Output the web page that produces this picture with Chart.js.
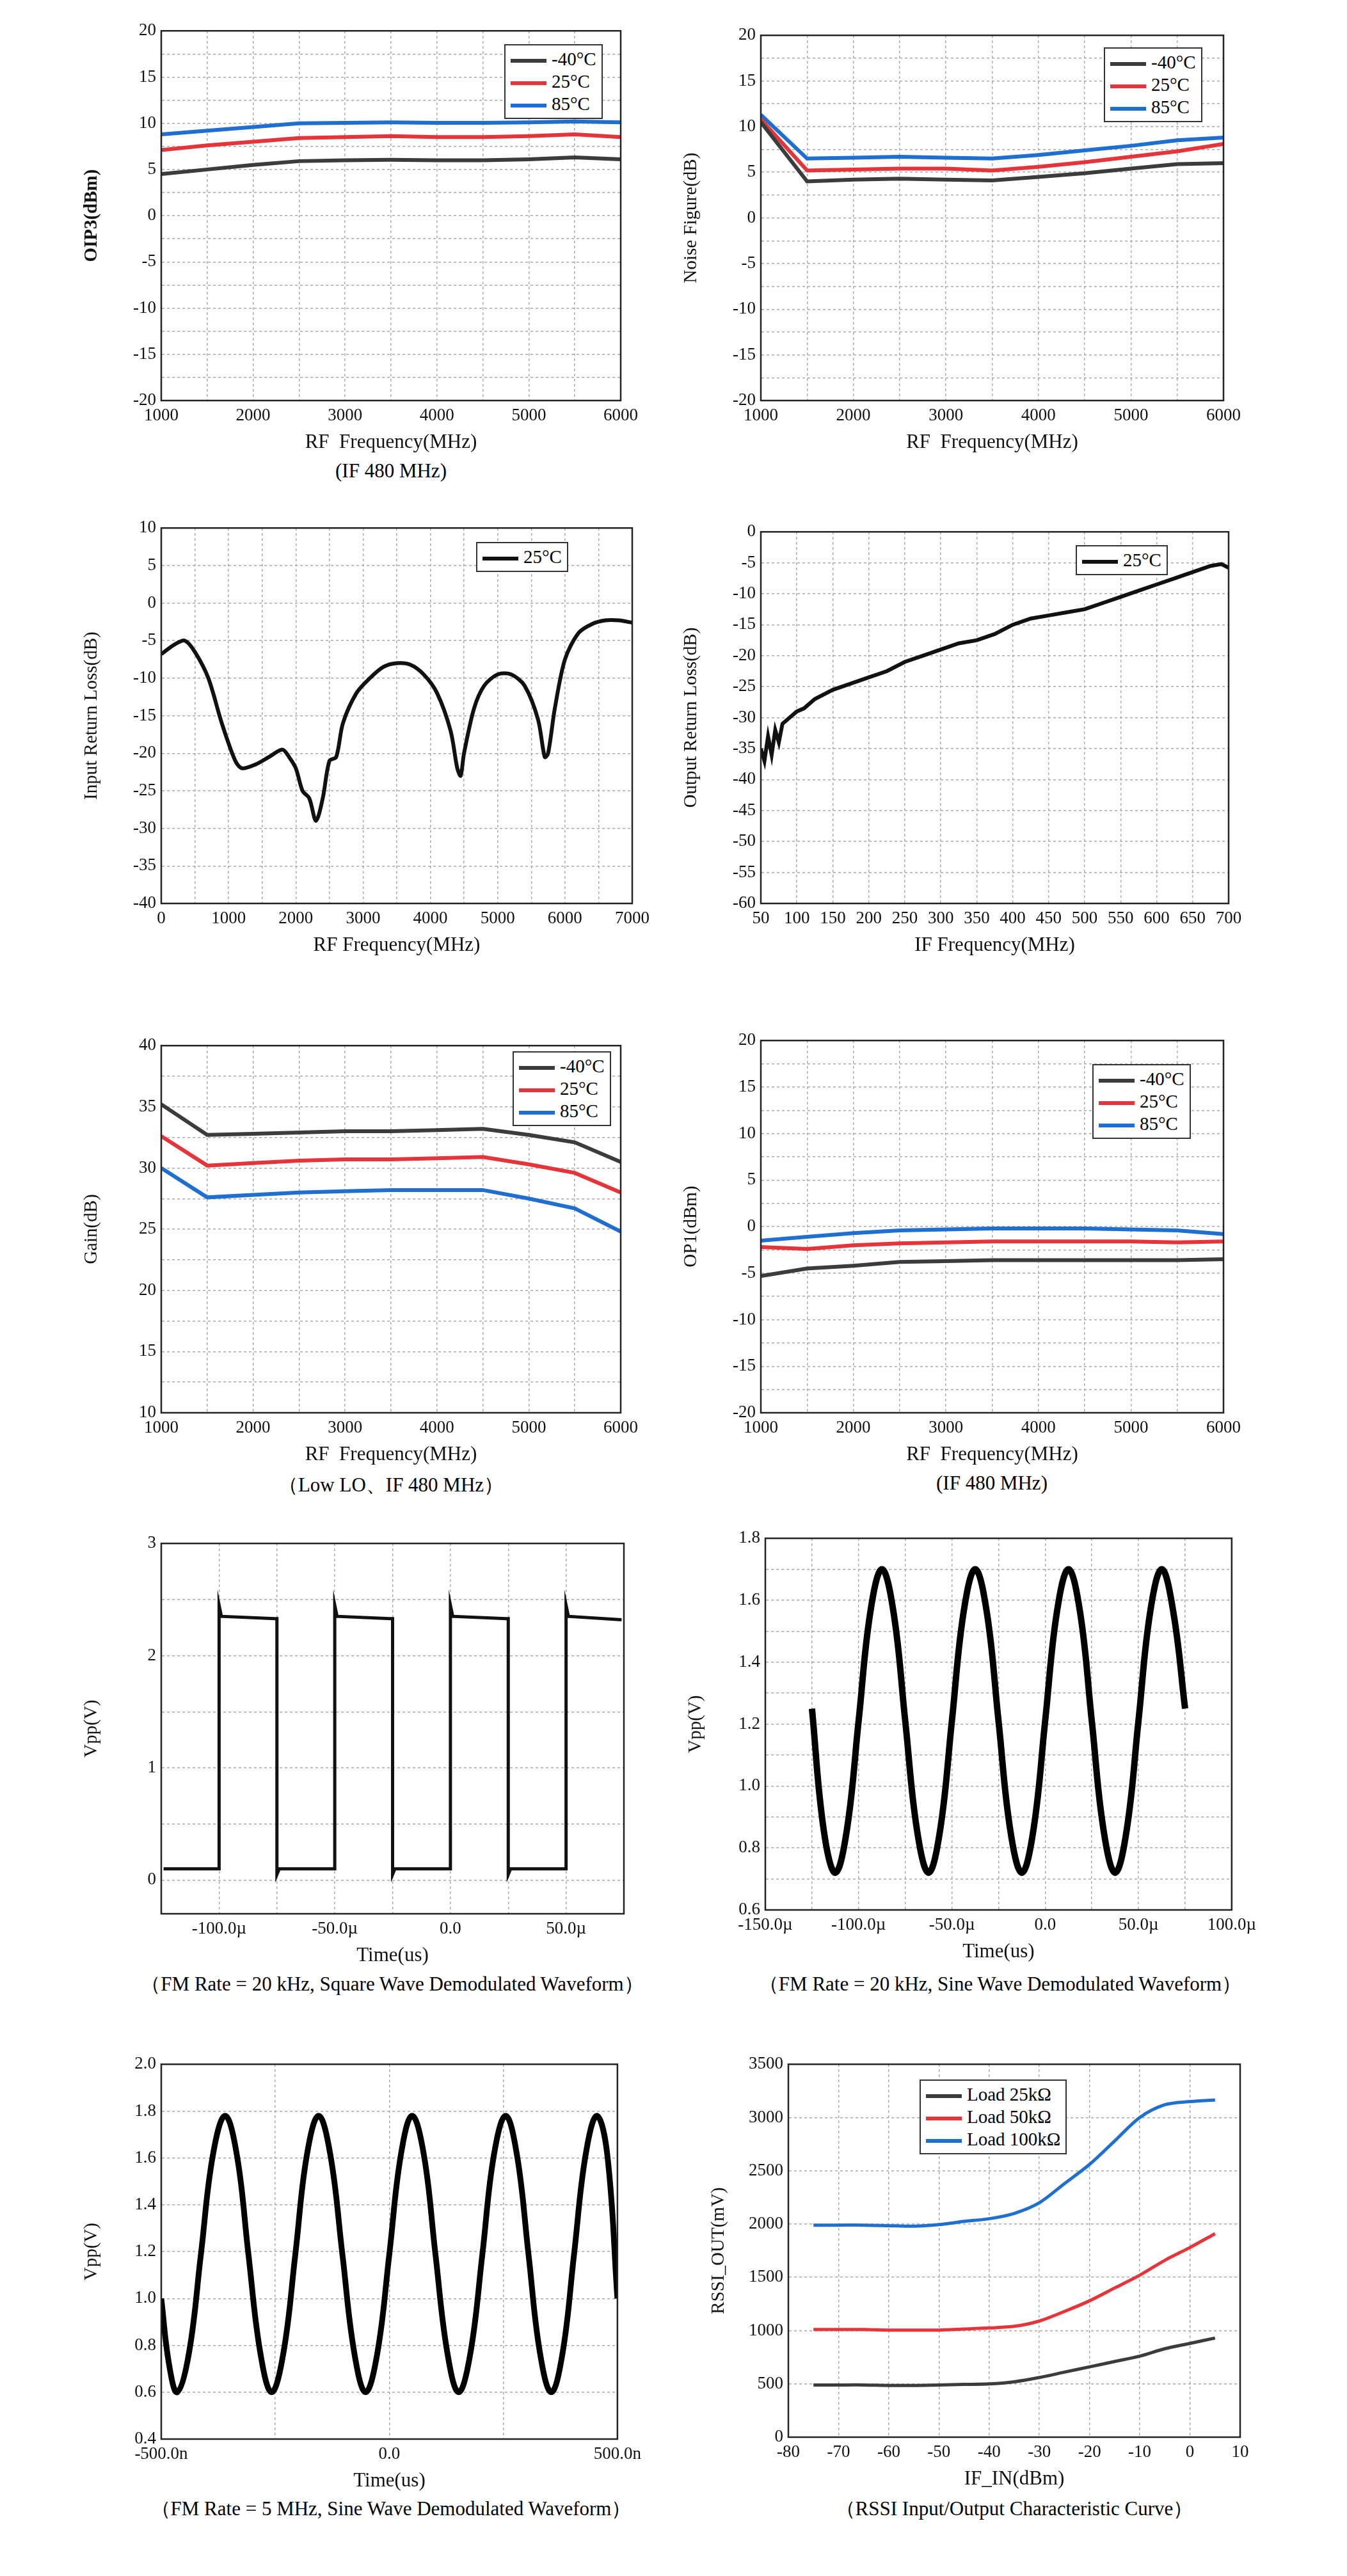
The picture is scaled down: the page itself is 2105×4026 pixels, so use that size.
<!DOCTYPE html><html>
<head>
<meta charset="UTF-8" />
<title>Charts</title>
<script src="https://cdn.jsdelivr.net/npm/chart.js"></script>
<style>
  body { margin: 0; background: #fff; width: 2105px; height: 4026px; position: relative; font-family: 'Liberation Serif', serif; }
  .box { position: absolute; }
  .legend { position: absolute; border: 2px solid #333; background: #fff; font-size: 29px; padding: 4px 8px; line-height: 35px; }
  .legend span { display: inline-block; width: 56px; height: 6px; vertical-align: middle; margin-right: 8px; }
  .cap { position: absolute; font-size: 31px; text-align: center; width: 1000px; }
</style>
</head>
<body>
<script>
// frequency axes (MHz)
const rfFreq = [1000, 1500, 2000, 2500, 3000, 3500, 4000, 4500, 5000, 5500, 6000];
const tempLabels = ['-40°C', '25°C', '85°C'];
const tempColors = ['#3c3c3c', '#e5353a', '#1e6fd0'];

const oip3 = [
  [4.5, 5.0, 5.5, 5.9, 6.0, 6.05, 6.0, 6.0, 6.1, 6.3, 6.1],
  [7.1, 7.6, 8.0, 8.4, 8.5, 8.6, 8.5, 8.5, 8.6, 8.8, 8.5],
  [8.8, 9.2, 9.6, 10.0, 10.05, 10.1, 10.05, 10.05, 10.1, 10.2, 10.1]
];
const noiseFig = [
  [10.5, 4.0, 4.2, 4.3, 4.2, 4.1, 4.5, 4.9, 5.4, 5.9, 6.0],
  [10.8, 5.2, 5.3, 5.4, 5.4, 5.2, 5.6, 6.1, 6.7, 7.3, 8.1],
  [11.3, 6.5, 6.6, 6.7, 6.6, 6.5, 6.9, 7.4, 7.9, 8.5, 8.8]
];
const gain = [
  [35.2, 32.7, 32.8, 32.9, 33.0, 33.0, 33.1, 33.2, 32.7, 32.1, 30.5],
  [32.6, 30.2, 30.4, 30.6, 30.7, 30.7, 30.8, 30.9, 30.3, 29.6, 28.0],
  [30.0, 27.6, 27.8, 28.0, 28.1, 28.2, 28.2, 28.2, 27.5, 26.7, 24.8]
];
const op1 = [
  [-5.3, -4.5, -4.2, -3.8, -3.7, -3.6, -3.6, -3.6, -3.6, -3.6, -3.5],
  [-2.2, -2.4, -2.0, -1.8, -1.7, -1.6, -1.6, -1.6, -1.6, -1.7, -1.6],
  [-1.5, -1.1, -0.7, -0.4, -0.3, -0.2, -0.2, -0.2, -0.3, -0.4, -0.8]
];

const irlFreq = [0, 200, 350, 500, 700, 900, 1100, 1200, 1400, 1600, 1800, 1900, 2000, 2100, 2200, 2300, 2400, 2500, 2600, 2700, 2900, 3100, 3300, 3500, 3700, 3900, 4100, 4300, 4400, 4450, 4500, 4650, 4800, 5000, 5200, 5400, 5600, 5700, 5750, 5850, 6000, 6200, 6400, 6600, 6800, 7000];
const irl = [-6.8, -5.5, -5.0, -6.5, -10, -16, -21, -22, -21.5, -20.5, -19.5, -20.5, -22, -25, -26, -29, -26, -21, -20.5, -16, -12, -10, -8.5, -8.0, -8.2, -9.5, -12, -17, -22, -23, -20, -14, -11, -9.5, -9.5, -11, -15.5, -20.5, -20, -14, -7.5, -4, -2.8, -2.3, -2.3, -2.6];

const orlFreq = [50, 55, 60, 65, 70, 75, 80, 90, 100, 110, 125, 150, 175, 200, 225, 250, 275, 300, 325, 350, 375, 400, 425, 450, 475, 500, 525, 550, 575, 600, 625, 650, 675, 690, 700];
const orl = [-35, -37, -33, -36, -32, -34, -31, -30, -29, -28.5, -27, -25.5, -24.5, -23.5, -22.5, -21, -20, -19, -18, -17.5, -16.5, -15, -14, -13.5, -13, -12.5, -11.5, -10.5, -9.5, -8.5, -7.5, -6.5, -5.5, -5.2, -5.8];

// square wave (us, V)
const sqTime = [-124, -100, -100, -99, -76, -75, -75, -74, -50, -50, -49, -26, -25, -25, -24, 0, 0, 1, 24, 25, 25, 26, 50, 50, 51, 74];
const sqV = [0.1, 0.1, 2.45, 2.35, 2.33, 2.33, 0.05, 0.1, 0.1, 2.45, 2.35, 2.33, 2.33, 0.05, 0.1, 0.1, 2.45, 2.35, 2.33, 2.33, 0.05, 0.1, 0.1, 2.45, 2.35, 2.32];

// 20 kHz sine (us, V)
const sinTime = [-125, -118.75, -112.5, -106.25, -100, -93.75, -87.5, -81.25, -75, -68.75, -62.5, -56.25, -50, -43.75, -37.5, -31.25, -25, -18.75, -12.5, -6.25, 0, 6.25, 12.5, 18.75, 25, 31.25, 37.5, 43.75, 50, 56.25, 62.5, 68.75, 75];
const sinV = [1.25, 0.86, 0.72, 0.86, 1.21, 1.56, 1.70, 1.56, 1.21, 0.86, 0.72, 0.86, 1.21, 1.56, 1.70, 1.56, 1.21, 0.86, 0.72, 0.86, 1.21, 1.56, 1.70, 1.56, 1.21, 0.86, 0.72, 0.86, 1.21, 1.56, 1.70, 1.56, 1.25];

// 5 MHz sine (ns, V)
const fastTime = [-500, -483, -465, -439, -413, -387, -360, -334, -309, -283, -258, -232, -206, -181, -155, -129, -103, -77, -52, -26, 0, 25, 50, 76, 101, 127, 152, 178, 204, 229, 255, 280, 305, 330, 355, 380, 405, 430, 455, 478, 500];
const fastV = [1.0, 0.72, 0.60, 0.77, 1.19, 1.61, 1.78, 1.61, 1.19, 0.77, 0.60, 0.77, 1.19, 1.61, 1.78, 1.61, 1.19, 0.77, 0.60, 0.77, 1.19, 1.61, 1.78, 1.61, 1.19, 0.77, 0.60, 0.77, 1.19, 1.61, 1.78, 1.61, 1.19, 0.77, 0.60, 0.77, 1.19, 1.61, 1.78, 1.61, 1.0];

// RSSI
const ifIn = [-75, -70, -65, -60, -55, -50, -45, -40, -35, -30, -25, -20, -15, -10, -5, 0, 5];
const rssiLabels = ['Load 25kΩ', 'Load 50kΩ', 'Load 100kΩ'];
const rssi = [
  [490, 490, 490, 485, 485, 490, 495, 500, 520, 560, 610, 660, 710, 760, 830, 880, 930],
  [1010, 1010, 1010, 1005, 1005, 1005, 1015, 1025, 1040, 1090, 1180, 1280, 1400, 1520, 1660, 1780, 1910],
  [1990, 1990, 1990, 1985, 1980, 1995, 2025, 2050, 2100, 2200, 2380, 2560, 2780, 3000, 3120, 3150, 3165]
];

const FONT = "'Liberation Serif', serif";
const YW = 130, XH = 88, PT = 20, PR = 40;

const frame = {
  id: 'frame',
  afterDraw(chart) {
    const a = chart.chartArea, c = chart.ctx;
    c.save(); c.strokeStyle = '#222'; c.lineWidth = 2.5;
    c.strokeRect(a.left, a.top, a.right - a.left, a.bottom - a.top);
    c.restore();
  }
};

function xy(xs, ys) { return xs.map((x, i) => ({ x, y: ys[i] })); }

function make(rect, datasets, o) {
  const [L, T, R, B] = rect;
  const div = document.createElement('div');
  div.className = 'box';
  div.style.left = (L - YW) + 'px';
  div.style.top = (T - PT) + 'px';
  div.style.width = (R - L + YW + PR) + 'px';
  div.style.height = (B - T + PT + XH) + 'px';
  const cv = document.createElement('canvas');
  div.appendChild(cv);
  document.body.appendChild(div);
  const grid = { color: '#aaa', lineWidth: 1.5, drawTicks: false };
  new Chart(cv, {
    type: 'line',
    data: { datasets },
    options: {
      animation: false, responsive: true, maintainAspectRatio: false,
      layout: { padding: { top: PT, right: PR } },
      plugins: { legend: { display: false }, tooltip: { enabled: false } },
      elements: { point: { radius: 0 } },
      scales: {
        x: {
          type: 'linear', min: o.xmin, max: o.xmax,
          afterFit(s) { s.height = XH; },
          afterBuildTicks(s) { s.ticks = o.xgrid.map(v => ({ value: v })); },
          ticks: { font: { family: FONT, size: 27 }, color: '#111', padding: 8, maxRotation: 0, autoSkip: false,
            callback: o.xfmt },
          grid, border: { dash: [4, 4], color: '#222' },
          title: { display: true, text: o.xtitle, font: { family: FONT, size: 31 }, color: '#111', padding: { top: 4 } }
        },
        y: {
          min: o.ymin, max: o.ymax,
          afterFit(s) { s.width = YW; },
          afterBuildTicks(s) { s.ticks = o.ygrid.map(v => ({ value: v })); },
          ticks: { font: { family: FONT, size: 27 }, color: '#111', padding: 8, autoSkip: false, callback: o.yfmt },
          grid, border: { dash: [4, 4], color: '#222' },
          title: { display: true, text: o.ytitle, font: { family: FONT, size: 29, weight: o.ybold ? 'bold' : 'normal' }, color: '#111', padding: { bottom: 2 } }
        }
      }
    },
    plugins: [frame]
  });
}

function range(a, b, s) { const r = []; for (let v = a; v <= b + 1e-9; v += s) r.push(+v.toFixed(4)); return r; }
function every(step) { return v => (Math.abs(v / step - Math.round(v / step)) < 1e-6 ? v : ''); }

function legend(x, y, labels, colors) {
  const d = document.createElement('div');
  d.className = 'legend';
  d.style.left = x + 'px'; d.style.top = y + 'px';
  d.innerHTML = labels.map((l, i) => '<div><span style="background:' + colors[i] + '"></span>' + l + '</div>').join('');
  document.body.appendChild(d);
}
function caption(cx, y, text) {
  const d = document.createElement('div');
  d.className = 'cap';
  d.style.left = (cx - 500) + 'px'; d.style.top = y + 'px';
  d.textContent = text;
  document.body.appendChild(d);
}
function tempSets(series, w) {
  return series.map((s, i) => ({ label: tempLabels[i], data: xy(rfFreq, s), borderColor: tempColors[i], borderWidth: w || 6 }));
}

const rfOpts = { xmin: 1000, xmax: 6000, xgrid: range(1000, 6000, 500), xfmt: every(1000), xtitle: 'RF  Frequency(MHz)' };

// 1 OIP3
make([252, 44, 970, 626], tempSets(oip3), Object.assign({}, rfOpts, { ymin: -20, ymax: 20, ygrid: range(-20, 20, 2.5), yfmt: every(5), ytitle: 'OIP3(dBm)', ybold: true }));
legend(788, 69, tempLabels, tempColors);
caption(611, 718, '(IF 480 MHz)');

// 2 Noise figure
make([1189, 51, 1912, 626], tempSets(noiseFig), Object.assign({}, rfOpts, { ymin: -20, ymax: 20, ygrid: range(-20, 20, 2.5), yfmt: every(5), ytitle: 'Noise Figure(dB)' }));
legend(1725, 74, tempLabels, tempColors);

// 3 Input return loss
make([252, 821, 988, 1412], [{ data: xy(irlFreq, irl), borderColor: '#111', borderWidth: 6, tension: 0.3 }],
  { xmin: 0, xmax: 7000, xgrid: range(0, 7000, 500), xfmt: every(1000), xtitle: 'RF Frequency(MHz)',
    ymin: -40, ymax: 10, ygrid: range(-40, 10, 5), yfmt: v => v, ytitle: 'Input Return Loss(dB)' });
legend(744, 847, ['25°C'], ['#111']);

// 4 Output return loss
make([1189, 827, 1920, 1412], [{ data: xy(orlFreq, orl), borderColor: '#111', borderWidth: 6 }],
  { xmin: 50, xmax: 700, xgrid: range(50, 700, 50), xfmt: v => v, xtitle: 'IF Frequency(MHz)',
    ymin: -60, ymax: 0, ygrid: range(-60, 0, 5), yfmt: v => v, ytitle: 'Output Return Loss(dB)' });
legend(1681, 852, ['25°C'], ['#111']);

// 5 Gain
make([252, 1630, 970, 2208], tempSets(gain), Object.assign({}, rfOpts, { ymin: 10, ymax: 40, ygrid: range(10, 40, 2.5), yfmt: every(5), ytitle: 'Gain(dB)' }));
legend(801, 1643, tempLabels, tempColors);
caption(611, 2300, '（Low LO、IF 480 MHz）');

// 6 OP1
make([1189, 1622, 1912, 2208], tempSets(op1), Object.assign({}, rfOpts, { ymin: -20, ymax: 20, ygrid: range(-20, 20, 2.5), yfmt: every(5), ytitle: 'OP1(dBm)' }));
legend(1707, 1663, tempLabels, tempColors);
caption(1550, 2300, '(IF 480 MHz)');

const micro = v => (v === 0 ? '0.0' : v.toFixed(1) + 'µ');

// 7 Square wave
make([252, 2408, 975, 2991], [{ data: xy(sqTime, sqV), borderColor: '#111', borderWidth: 5 }],
  { xmin: -125, xmax: 75, xgrid: range(-125, 75, 25), xfmt: v => (v % 50 === 0 ? micro(v) : ''), xtitle: 'Time(us)',
    ymin: -0.3, ymax: 3, ygrid: range(0, 3, 0.5), yfmt: v => (Number.isInteger(v) ? v : ''), ytitle: 'Vpp(V)' });
caption(613, 3080, '（FM Rate = 20 kHz, Square Wave Demodulated Waveform）');

// 8 Sine 20 kHz
make([1196, 2400, 1931, 2985], [{ data: xy(sinTime, sinV), borderColor: '#000', borderWidth: 10, tension: 0.4 }],
  { xmin: -150, xmax: 100, xgrid: range(-150, 100, 25), xfmt: v => (v % 50 === 0 ? micro(v) : ''), xtitle: 'Time(us)',
    ymin: 0.6, ymax: 1.8, ygrid: range(0.6, 1.8, 0.1), yfmt: v => (Math.round(v * 10) % 2 === 0 ? v.toFixed(1) : ''), ytitle: 'Vpp(V)' });
caption(1563, 3080, '（FM Rate = 20 kHz, Sine Wave Demodulated Waveform）');

// 9 Sine 5 MHz
make([252, 3222, 970, 3812], [{ data: xy(fastTime, fastV), borderColor: '#000', borderWidth: 9, tension: 0.4 }],
  { xmin: -500, xmax: 500, xgrid: range(-500, 500, 250), xfmt: v => (v === 0 ? '0.0' : v % 500 === 0 ? v.toFixed(1) + 'n' : ''), xtitle: 'Time(us)',
    ymin: 0.4, ymax: 2.0, ygrid: range(0.4, 2.0, 0.2), yfmt: v => v.toFixed(1), ytitle: 'Vpp(V)' });
caption(611, 3900, '（FM Rate = 5 MHz, Sine Wave Demodulated Waveform）');

// 10 RSSI
make([1232, 3222, 1938, 3809], rssi.map((s, i) => ({ label: rssiLabels[i], data: xy(ifIn, s), borderColor: tempColors[i], borderWidth: 5, tension: 0.3 })),
  { xmin: -80, xmax: 10, xgrid: range(-80, 10, 10), xfmt: v => v, xtitle: 'IF_IN(dBm)',
    ymin: 0, ymax: 3500, ygrid: range(0, 3500, 500), yfmt: v => v, ytitle: 'RSSI_OUT(mV)' });
legend(1437, 3250, rssiLabels, tempColors);
caption(1585, 3900, '（RSSI Input/Output Characteristic Curve）');
</script>
</body>
</html>
